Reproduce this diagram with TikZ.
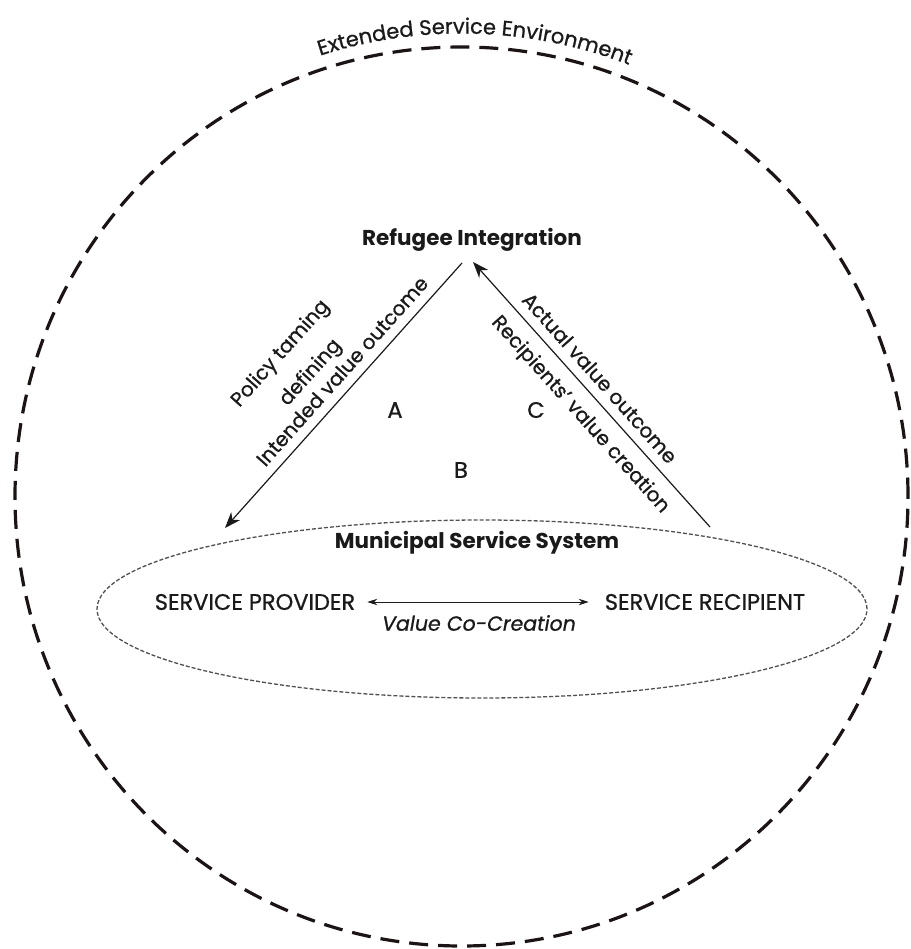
\documentclass[tikz,border=0pt]{standalone}
\usepackage{fontspec}
\setmainfont{Poppins}[UprightFeatures={FakeBold=0.8}, ItalicFeatures={FakeBold=0.8}]
\usetikzlibrary{arrows.meta,decorations.text}
\definecolor{ink}{HTML}{1A1A1A}
\definecolor{ringc}{HTML}{1C1414}
\definecolor{ellc}{HTML}{505050}
\begin{document}
\begin{tikzpicture}[x=1pt,y=1pt,
  txt/.style={font=\fontsize{22.5}{26}\selectfont, text=ink, inner sep=0pt},
  boldtxt/.style={font=\bfseries\fontsize{21.5}{25}\selectfont, text=ink, inner sep=0pt},
  difftxt/.style={font=\fontsize{20}{23}\selectfont, text=ink, inner sep=0pt},
  ring/.style={draw=ringc, line width=3.2pt, dash pattern=on 19pt off 10pt},
  sysell/.style={draw=ellc, line width=1.3pt, dash pattern=on 4pt off 2pt},
  bigarrow/.style={draw=ink, line width=1.2pt, -{Stealth[length=16pt,width=12pt,inset=5pt]}},
  smallarrow/.style={draw=ink, line width=1pt, {Stealth[length=10pt,width=6.5pt]}-{Stealth[length=10pt,width=6.5pt]}}
]
\useasboundingbox (0,0) rectangle (910,-949);
\fill[white] (0,0) rectangle (910,-949);

% outer environment
\coordinate (envc) at (461.5,-496.5);
\draw[ring] (envc) ellipse [x radius=446.5, y radius=449.5];
\path[decorate, decoration={text along path, text align=center,
  text={|\fontsize{21}{24}\selectfont\color{ink}|Extended Service Environment}}]
  (461.5,-496.5) ++(118.3:463) arc[start angle=118.3, end angle=58.3, radius=463];

% municipal service system ellipse
\draw[sysell] (482,-609) ellipse [x radius=385, y radius=89];

% nodes
\node[boldtxt] (ri) at (472,-240) {Refugee Integration};
\node[boldtxt] (mss) at (477,-543) {Municipal Service System};
\node[txt] (sp) at (255,-602) {SERVICE PROVIDER};
\node[txt] (sr) at (705,-602) {SERVICE RECIPIENT};
\node[txt, font=\itshape\fontsize{20.5}{24}\selectfont] (vcc) at (479,-623) {Value Co-Creation};

\node[txt] (a) at (395,-410) {A};
\node[txt] (b) at (461,-470) {B};
\node[txt] (c) at (536,-410) {C};

% triangle connectors
\coordinate (apexL) at (462,-263);
\coordinate (botL) at (225,-528);
\coordinate (apexR) at (473,-262);
\coordinate (botR) at (710,-527);
\draw[bigarrow] (apexL) -- (botL);
\draw[bigarrow] (botR) -- (apexR);
\draw[smallarrow] ([xshift=12pt]sp.east) -- ([xshift=-16pt]sr.west);

% left side labels
\node[difftxt, rotate=48.2] (l1) at (342,-371) {Intended value outcome};
\node[difftxt, rotate=48.2] (l2) at (311,-373) {defining};
\node[difftxt, rotate=48.2] (l3) at (281,-354) {Policy taming};

% right side labels
\node[difftxt, rotate=-48.2] (r1) at (600,-378) {Actual value outcome};
\node[difftxt, rotate=-48.2] (r2) at (580,-415) {Recipients’ value creation};
\end{tikzpicture}
\end{document}
